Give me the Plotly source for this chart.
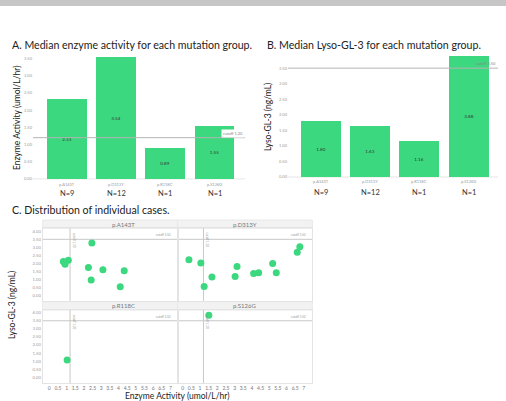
import plotly.graph_objects as go

# ---------------- data ----------------
groups = ["p.A143T", "p.D313Y", "p.R118C", "p.S126G"]
n_cases = [9, 12, 1, 1]
median_enzyme = [2.33, 3.54, 0.89, 1.55]
median_lyso = [1.80, 1.63, 1.16, 3.88]
enzyme_cutoff = 1.20
lyso_cutoff = 3.50

a143t_enzyme = [0.81, 0.91, 1.10, 2.46, 2.26, 3.10, 2.42, 4.33, 4.10]
a143t_lyso = [2.12, 1.94, 2.19, 3.27, 1.75, 1.60, 0.96, 1.54, 0.54]
d313y_enzyme = [0.36, 1.05, 1.24, 1.69, 3.14, 3.03, 4.10, 4.39, 5.20, 5.41, 6.62, 6.77]
d313y_lyso = [2.23, 2.02, 0.56, 1.16, 1.81, 1.19, 1.37, 1.41, 2.00, 1.41, 2.69, 3.04]
r118c_enzyme = [1.03]
r118c_lyso = [1.07]
s126g_enzyme = [1.51]
s126g_lyso = [3.84]

bar_ticks = [0, 0.5, 1, 1.5, 2, 2.5, 3, 3.5]
facet_yticks = [0, 0.5, 1, 1.5, 2, 2.5, 3, 3.5, 4]
facet_xticks = [0, 0.5, 1, 1.5, 2, 2.5, 3, 3.5, 4, 4.5, 5, 5.5, 6, 6.5, 7]

# ---------------- helpers ----------------
W, H = 506, 401
GREEN = "#3cd87f"
FONT = "Lato"


def fx(p):
    return p / W


def fy(p):
    return 1 - p / H


def xax(left, right, zero, ppu):
    return dict(domain=[fx(left), fx(right)],
                range=[(left - zero) / ppu, (right - zero) / ppu])


def yax(top, bot, zero, ppu):
    return dict(domain=[fy(bot), fy(top)],
                range=[(zero - bot) / ppu, (zero - top) / ppu])


fig = go.Figure()

# ---------------- bar panels ----------------
fig.add_trace(go.Bar(x=list(range(len(groups))), y=median_enzyme, width=0.81,
                     marker=dict(color=GREEN, line=dict(width=0)),
                     text=[f"{v:.2f}" for v in median_enzyme], textposition="inside",
                     insidetextanchor="middle", textfont=dict(size=4.5, color="#333"),
                     xaxis="x", yaxis="y"))
fig.add_trace(go.Bar(x=list(range(len(groups))), y=median_lyso, width=0.81,
                     marker=dict(color=GREEN, line=dict(width=0)),
                     text=[f"{v:.2f}" for v in median_lyso], textposition="inside",
                     insidetextanchor="middle", textfont=dict(size=4.5, color="#333"),
                     xaxis="x2", yaxis="y2"))

# ---------------- scatter facets ----------------
facets = [
    (a143t_enzyme, a143t_lyso, "x3", "y3"),
    (d313y_enzyme, d313y_lyso, "x4", "y4"),
    (r118c_enzyme, r118c_lyso, "x5", "y5"),
    (s126g_enzyme, s126g_lyso, "x6", "y6"),
]
for ex, ly, xa, ya in facets:
    fig.add_trace(go.Scatter(x=ex, y=ly, mode="markers",
                             marker=dict(color=GREEN, size=7, line=dict(width=0)),
                             xaxis=xa, yaxis=ya))

tickfont_small = dict(size=4, color="#9a9a9a", family=FONT)
base_hidden = dict(showgrid=False, zeroline=False, showline=False, ticks="",
                   fixedrange=True)

layout_axes = {}
# panel A
layout_axes["xaxis"] = dict(**xax(33, 245, 67, 49.17), anchor="y", showticklabels=False,
                            **base_hidden)
layout_axes["yaxis"] = dict(**yax(55, 181, 178.9, 34.35), anchor="x", tickvals=bar_ticks,
                            ticktext=[f"{v:.2f}" for v in bar_ticks],
                            tickfont=tickfont_small, **base_hidden)
# panel B
layout_axes["xaxis2"] = dict(**xax(288, 498, 320.7, 49.3), anchor="y2", showticklabels=False,
                             **base_hidden)
layout_axes["yaxis2"] = dict(**yax(54, 179, 177, 31.1), anchor="x2", tickvals=bar_ticks,
                             ticktext=[f"{v:.2f}" for v in bar_ticks],
                             tickfont=tickfont_small, **base_hidden)

# facets
col_px = [(42.7, 177.5, 49.3), (177.5, 312.3, 182.7)]
row_px = [(228.3, 300.8, 295.5, 16.05), (310.0, 383.3, 377.3, 16.15)]
facet_axes = [("xaxis3", "yaxis3", 0, 0), ("xaxis4", "yaxis4", 1, 0),
              ("xaxis5", "yaxis5", 0, 1), ("xaxis6", "yaxis6", 1, 1)]
for xn, yn, c, r in facet_axes:
    l, rr, z = col_px[c]
    t, b, yz, ppu = row_px[r]
    xa = "x" + xn[5:]
    ya = "y" + yn[5:]
    layout_axes[xn] = dict(**xax(l, rr, z, 17.3), anchor=ya, showgrid=False, zeroline=False,
                           showline=True, mirror=True, linecolor="#e4e4e4", linewidth=1,
                           ticks="", fixedrange=True,
                           tickvals=facet_xticks,
                           ticktext=[f"{v:g}" for v in facet_xticks],
                           showticklabels=(r == 1),
                           tickfont=dict(size=5, color="#777", family=FONT))
    layout_axes[yn] = dict(**yax(t, b, yz, ppu), anchor=xa, showgrid=False, zeroline=False,
                           showline=True, mirror=True, linecolor="#e4e4e4", linewidth=1,
                           ticks="", fixedrange=True,
                           tickvals=facet_yticks,
                           ticktext=[f"{v:.2f}" for v in facet_yticks],
                           showticklabels=(c == 0),
                           tickfont=dict(size=4.2, color="#9a9a9a", family=FONT))

shapes = []
annotations = []

# top grey bar
shapes.append(dict(type="rect", xref="paper", yref="paper", x0=0, x1=1,
                   y0=fy(6), y1=1, fillcolor="#c6c6c6", line=dict(width=0), layer="below"))

# bar-panel reference lines
shapes.append(dict(type="line", xref="x domain", yref="y", x0=0, x1=1,
                   y0=enzyme_cutoff, y1=enzyme_cutoff,
                   line=dict(color="#b5b5b5", width=1)))
shapes.append(dict(type="line", xref="x2 domain", yref="y2", x0=0, x1=1,
                   y0=lyso_cutoff, y1=lyso_cutoff,
                   line=dict(color="#b5b5b5", width=1)))
annotations.append(dict(xref="x domain", yref="y", x=1, y=enzyme_cutoff, xanchor="right",
                        yanchor="bottom", text=f"cutoff {enzyme_cutoff:.2f}", showarrow=False,
                        font=dict(size=4, color="#888", family=FONT), bgcolor="white"))
annotations.append(dict(xref="x2 domain", yref="y2", x=1, y=lyso_cutoff, xanchor="right",
                        yanchor="bottom", text=f"cutoff {lyso_cutoff:.2f}", showarrow=False,
                        font=dict(size=4, color="#888", family=FONT)))

# baselines
for xa, ya in (("x", "y"), ("x2", "y2")):
    shapes.append(dict(type="line", xref=f"{xa} domain", yref=ya, x0=0, x1=1, y0=0, y1=0,
                       line=dict(color="#e6e6e6", width=1), layer="below"))

# category & N labels
for i, (g, n) in enumerate(zip(groups, n_cases)):
    annotations.append(dict(xref="x", yref="paper", x=i, y=fy(184), text=g, showarrow=False,
                            font=dict(size=4, color="#999", family=FONT), yanchor="middle"))
    annotations.append(dict(xref="x", yref="paper", x=i, y=fy(193.5), text=f"N={n}",
                            showarrow=False, font=dict(size=7.5, color="#333", family=FONT),
                            yanchor="middle"))
    annotations.append(dict(xref="x2", yref="paper", x=i, y=fy(182), text=g, showarrow=False,
                            font=dict(size=4, color="#999", family=FONT), yanchor="middle"))
    annotations.append(dict(xref="x2", yref="paper", x=i, y=fy(192.5), text=f"N={n}",
                            showarrow=False, font=dict(size=7.5, color="#333", family=FONT),
                            yanchor="middle"))

# facet strips, cut-off lines
strip_px = [(220, 228.3), (301.7, 310)]
for (xn, yn, c, r), g in zip(facet_axes, groups):
    xa = "x" + xn[5:]
    ya = "y" + yn[5:]
    l, rr, _ = col_px[c]
    st, sb = strip_px[r]
    shapes.append(dict(type="rect", xref="paper", yref="paper", x0=fx(l), x1=fx(rr),
                       y0=fy(sb), y1=fy(st), fillcolor="#f2f2f2",
                       line=dict(color="#e8e8e8", width=1), layer="below"))
    annotations.append(dict(xref="paper", yref="paper", x=fx((l + rr) / 2), y=fy((st + sb) / 2),
                            text=g, showarrow=False, yanchor="middle",
                            font=dict(size=6, color="#777", family=FONT)))
    shapes.append(dict(type="line", xref=xa, yref=f"{ya} domain", x0=enzyme_cutoff,
                       x1=enzyme_cutoff, y0=0, y1=1, line=dict(color="#c8c8c8", width=1),
                       layer="below"))
    shapes.append(dict(type="line", xref=f"{xa} domain", yref=ya, x0=0, x1=1,
                       y0=lyso_cutoff, y1=lyso_cutoff, line=dict(color="#c8c8c8", width=1),
                       layer="below"))
    annotations.append(dict(xref=f"{xa} domain", yref=ya, x=0.97, y=lyso_cutoff,
                            xanchor="right", yanchor="bottom", text=f"cutoff {lyso_cutoff:.2f}",
                            showarrow=False, font=dict(size=3, color="#999", family=FONT)))
    annotations.append(dict(xref=xa, yref=f"{ya} domain", x=enzyme_cutoff, y=0.97,
                            xanchor="left", yanchor="top", textangle=90,
                            text=f"cutoff {enzyme_cutoff:.2f}", showarrow=False,
                            font=dict(size=3, color="#999", family=FONT)))

# titles
title_font = dict(size=10.6, color="#222", family=FONT)
annotations.append(dict(xref="paper", yref="paper", x=fx(10), y=fy(45), xanchor="left",
                        yanchor="middle", text="A. Median enzyme activity for each mutation group.",
                        showarrow=False, font=title_font))
annotations.append(dict(xref="paper", yref="paper", x=fx(265), y=fy(45), xanchor="left",
                        yanchor="middle", text="B. Median Lyso-GL-3 for each mutation group.",
                        showarrow=False, font=title_font))
annotations.append(dict(xref="paper", yref="paper", x=fx(10), y=fy(210), xanchor="left",
                        yanchor="middle", text="C. Distribution of individual cases.",
                        showarrow=False, font=title_font))

axis_title_font = dict(size=8.5, color="#222", family=FONT)
annotations.append(dict(xref="paper", yref="paper", x=fx(17), y=fy(118), textangle=-90,
                        text="Enzyme Activity (umol/L/hr)", showarrow=False,
                        xanchor="center", yanchor="middle", font=axis_title_font))
annotations.append(dict(xref="paper", yref="paper", x=fx(268), y=fy(117), textangle=-90,
                        text="Lyso-GL-3 (ng/mL)", showarrow=False,
                        xanchor="center", yanchor="middle", font=axis_title_font))
annotations.append(dict(xref="paper", yref="paper", x=fx(12), y=fy(305), textangle=-90,
                        text="Lyso-GL-3 (ng/mL)", showarrow=False,
                        xanchor="center", yanchor="middle", font=axis_title_font))
annotations.append(dict(xref="paper", yref="paper", x=fx(177), y=fy(396),
                        text="Enzyme Activity (umol/L/hr)", showarrow=False,
                        xanchor="center", yanchor="middle", font=axis_title_font))

fig.update_layout(
    width=W, height=H, margin=dict(l=0, r=0, t=0, b=0),
    paper_bgcolor="white", plot_bgcolor="white", showlegend=False,
    font=dict(family=FONT), bargap=0,
    shapes=shapes, annotations=annotations,
    **layout_axes,
)

fig.write_html("out.html")
